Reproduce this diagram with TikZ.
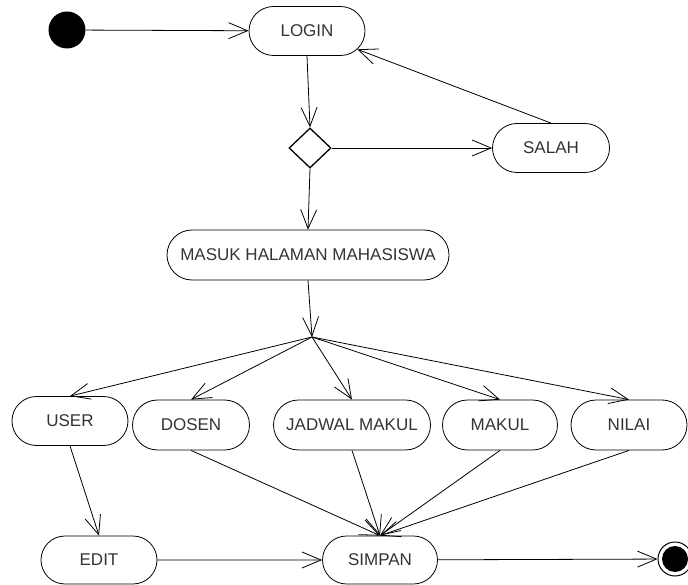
\documentclass[tikz,border=0pt]{standalone}
\usepackage{fontspec}
\setmainfont{Liberation Sans}
\usetikzlibrary{arrows.meta,shapes.geometric,shapes.misc}

\begin{document}
\begin{tikzpicture}[x=1pt, y=-1pt, >={Straight Barb[length=19pt,width=16pt]}, line width=0.8pt,
    state/.style={rounded rectangle, draw, minimum height=49pt, inner sep=0pt,
      font=\fontsize{17}{17}\selectfont, text=black!80}]
    \useasboundingbox (0,0) rectangle (688,585);
    % start and end points
    \node[circle, fill=black, minimum size=37pt, inner sep=0pt] (start) at (67,30) {};
    \node[circle, draw, line width=1pt, minimum size=34pt, inner sep=0pt] (finish) at (675,559) {};
    \fill (finish) circle[radius=13pt];
    % states
    \node[state, minimum width=116pt] (login) at (307,31) {LOGIN};
    \node[diamond, draw, line width=1.3pt, minimum width=42pt, minimum height=40pt, inner sep=0pt] (cek) at (310,148) {};
    \node[state, minimum width=117pt] (salah) at (551,148) {SALAH};
    \node[state, minimum width=282pt, minimum height=50pt] (masuk) at (308,255) {MASUK HALAMAN MAHASISWA};
    \coordinate (pilih) at (312,337);
    \node[state, minimum width=116pt] (user) at (70,421) {USER};
    \node[state, minimum width=117pt, minimum height=50pt] (dosen) at (191,425) {DOSEN};
    \node[state, minimum width=157pt, minimum height=50pt] (jadwal) at (352,425) {JADWAL MAKUL};
    \node[state, minimum width=115pt, minimum height=50pt] (makul) at (500,425) {MAKUL};
    \node[state, minimum width=116pt, minimum height=50pt] (nilai) at (629,425) {NILAI};
    \node[state, minimum width=116pt, minimum height=48pt] (edit) at (99,560) {EDIT};
    \node[state, minimum width=115pt, minimum height=48pt] (simpan) at (380,560) {SIMPAN};
    % transitions
    \draw[->] (start) -- (login);
    \draw[->] (login.south) -- (cek.north);
    \draw[->] (cek) -- (salah);
    \draw[->] (salah.north) -- (login.-20);
    \draw[->] (cek.south) -- (masuk.north);
    \draw[->] (masuk.south) -- (pilih);
    \draw[->] (pilih) -- (user.north);
    \draw[->] (pilih) -- (dosen.north);
    \draw[->] (pilih) -- (jadwal.north);
    \draw[->] (pilih) -- (makul.north);
    \draw[->] (pilih) -- (nilai.north);
    \draw[->] (user.south) -- (edit.north);
    \draw[->] (dosen.south) -- (simpan.north);
    \draw[->] (jadwal.south) -- (simpan.north);
    \draw[->] (makul.south) -- (simpan.north);
    \draw[->] (nilai.south) -- (simpan.north);
    \draw[->] (edit) -- (simpan);
    \draw[->] (simpan) -- (finish);
\end{tikzpicture}
\end{document}
